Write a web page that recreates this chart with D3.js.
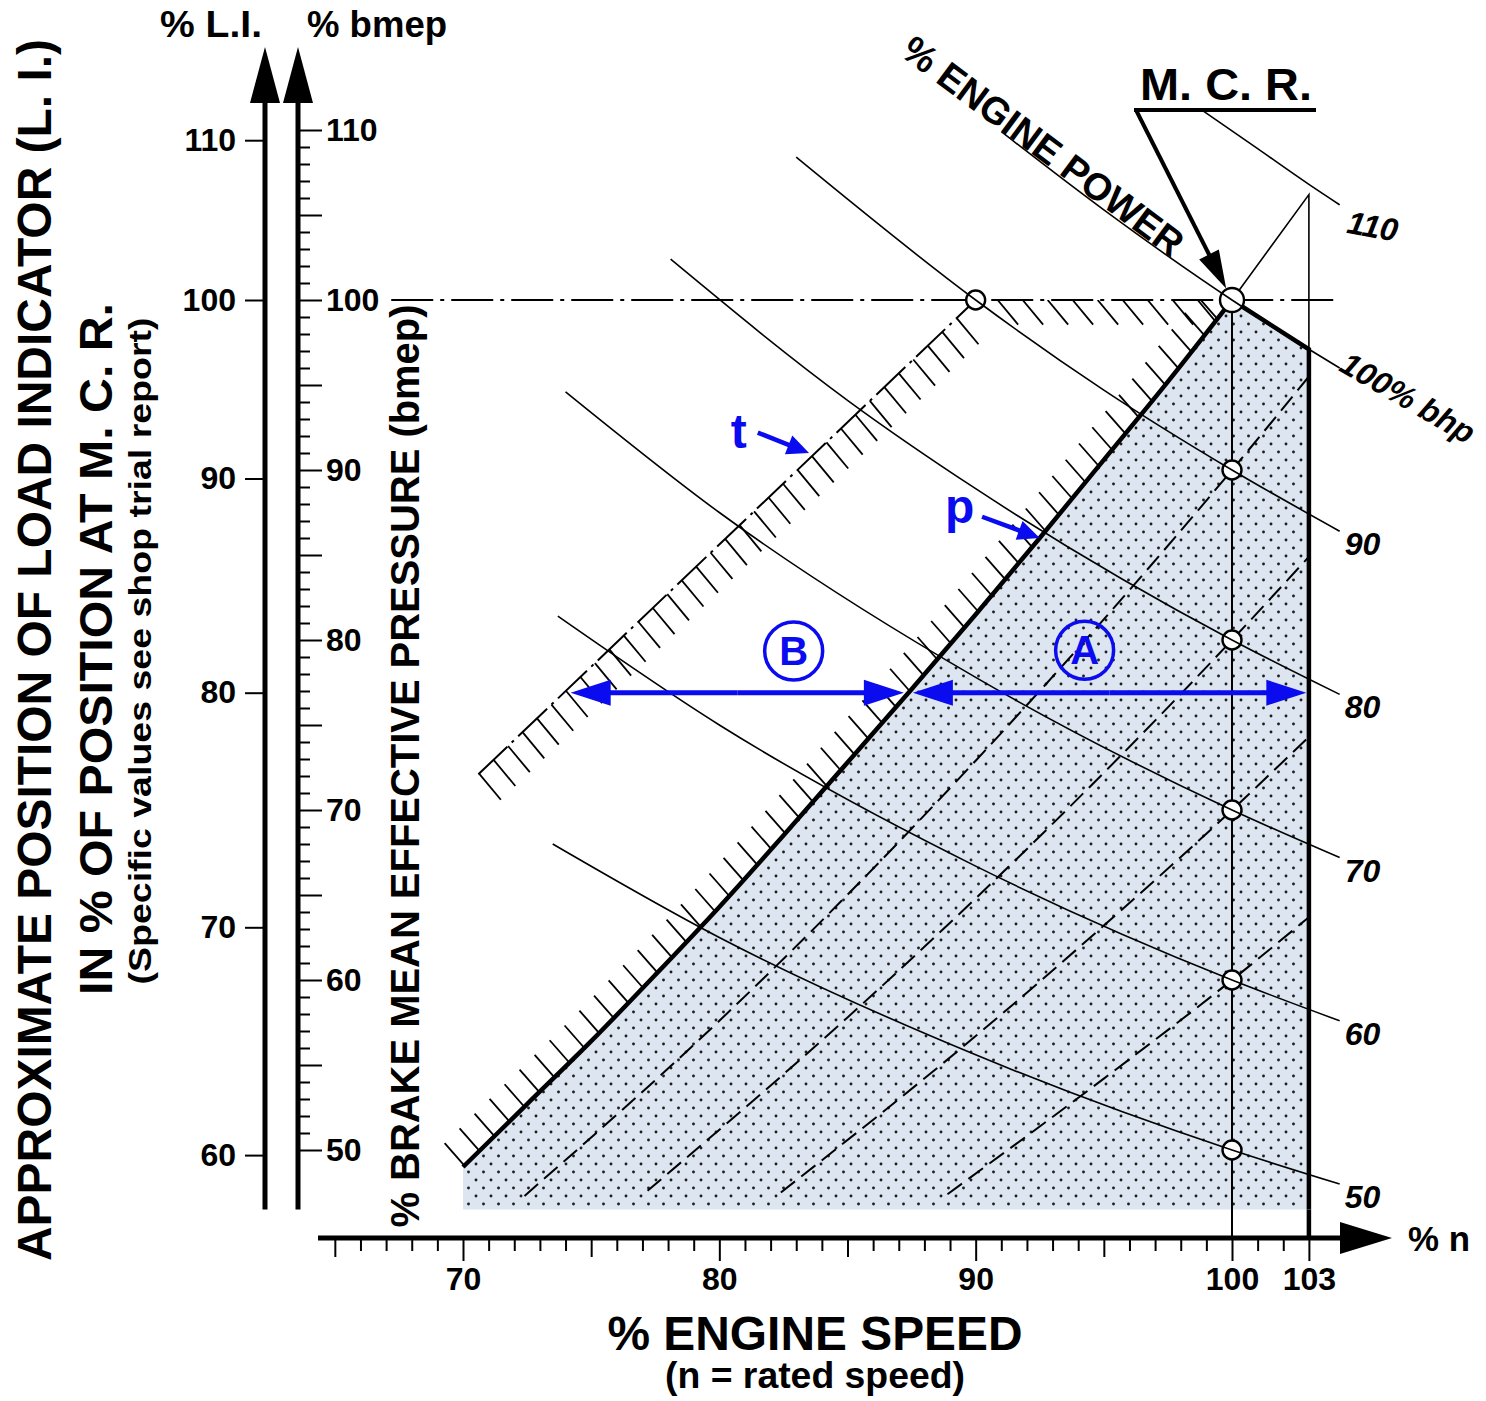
<!DOCTYPE html>
<html>
<head>
<meta charset="utf-8">
<script src="https://cdn.jsdelivr.net/npm/d3@7"></script>
<style>
  body { margin: 0; background: #fff; }
  svg { display: block; font-family: "Liberation Sans", Arial, sans-serif; font-weight: bold; }
</style>
</head>
<body>
<svg id="chart" width="1486" height="1401"></svg>
<script>
// ---------- values ----------
const speedTicks = d3.range(65, 104);          // % n, one tick per %
const speedLabels = [70, 80, 90, 100, 103];
const bmepTicks = d3.range(50, 111);
const bmepLabels = [50, 60, 70, 80, 90, 100, 110];
const liLabels = [60, 70, 80, 90, 100, 110];
const liAsBmep = [49.7, 63.1, 76.9, 89.5, 100, 109.4];   // where each L.I. mark sits on the bmep scale

// propeller curve through M.C.R. (thick line between A and B)
const propCurve = [[70, 49], [72.5, 52.7], [75, 56.4], [77.5, 60.3], [80, 64.3], [82.5, 68.5],
  [85, 72.8], [87.5, 77.1], [90, 81.5], [92.5, 86.0], [95, 90.6], [97.5, 95.2], [100, 100]];

// light running propeller curves (dashed)
const light90 = [[72.4, 47.3], [80, 57.6], [90, 72.9], [100, 90], [103, 95.5]];
const light80 = [[77.2, 47.6], [85, 57.8], [90, 64.8], [100, 80], [103, 84.9]];
const light70 = [[82.4, 47.5], [90, 56.7], [95, 63.2], [100, 70], [103, 74.3]];
const light60 = [[88.9, 47.4], [95, 54.2], [100, 60], [103, 63.7]];

// constant power curves, % engine power
const powerLevels = [50, 60, 70, 80, 90, 100, 110];
const power50 = [[73.5, 68.0], [80, 62.5], [90, 55.6], [100, 50], [104.2, 48.0]];
const power60 = [[73.7, 81.4], [80, 75.0], [90, 66.7], [100, 60], [104.2, 57.6]];
const power70 = [[74.0, 94.6], [80, 87.5], [90, 77.8], [100, 70], [104.2, 67.2]];
const power80 = [[78.1, 102.4], [85, 94.1], [90, 88.9], [100, 80], [104.2, 76.8]];
const power90 = [[83.0, 108.4], [90, 100], [95, 94.7], [100, 90], [104.2, 86.4]];
const power100 = [[91.0, 109.9], [95, 105.3], [100, 100], [103, 97.1], [104.2, 96.0]];
const power110 = [[98.8, 111.2], [101, 108.9], [103, 106.8], [104.2, 105.6]];

// torque limit line t, overload envelope, marked points
const tLine = [[70.6, 72.1], [90, 100]];
const overload = [[100, 100], [103, 106.2], [103, 97.1]];
const marksAt100 = [90, 80, 70, 60, 50];
const floorBmep = 46.5;
const limitN = 103;

// blue annotations
const zoneLI = 80;
const zoneB = [74.2, 87.2];
const zoneA = [87.55, 102.9];
const zoneLetters = [["B", 82.9, 79.35], ["A", 94.25, 79.4]];
const pointers = [
  { text: "t", at: [80.45, 91.3], from: [81.5, 92.2], to: [83.5, 91.0] },
  { text: "p", at: [88.8, 86.9], from: [90.25, 87.25], to: [92.5, 86.0] }
];

// ---------- scales ----------
const svg = d3.select("#chart");
const x = d3.scaleLinear().domain([70, 100]).range([463, 1232]);
const y = d3.scaleLinear().domain([50, 110]).range([1150, 130]);
const li = d3.scaleLinear().domain(liLabels).range(liAsBmep.map(v => y(v)));
const axisY = 1238, liX = 265, bmepX = 298;
const blue = "#0b0bef";

const straight = d3.line().x(d => x(d[0])).y(d => y(d[1]));
const smooth = d3.line().x(d => x(d[0])).y(d => y(d[1])).curve(d3.curveMonotoneX);

// groups in drawing order
const gRegion = svg.append("g");
const gGuide = svg.append("g");
const gHatch = svg.append("g");
const gLines = svg.append("g");
const gThick = svg.append("g");
const gCircles = svg.append("g");
const gPower = svg.append("g");
const gAxes = svg.append("g");
const gText = svg.append("g");

// ---------- shaded operating area (A) ----------
const defs = svg.append("defs");
const pat = defs.append("pattern").attr("id", "dots")
  .attr("width", 15).attr("height", 16).attr("patternUnits", "userSpaceOnUse");
pat.append("rect").attr("width", 15).attr("height", 16).attr("fill", "#dce5f0");
pat.append("circle").attr("cx", 3.5).attr("cy", 4).attr("r", 1.45).attr("fill", "#1e1e1e");
pat.append("circle").attr("cx", 11).attr("cy", 12).attr("r", 1.45).attr("fill", "#1e1e1e");

const tail = power100.filter(d => d[0] > 100 && d[0] <= limitN)
  .concat([[limitN, floorBmep], [70, floorBmep]]);
gRegion.append("path")
  .attr("d", smooth(propCurve) + tail.map(d => `L${x(d[0])},${y(d[1])}`).join("") + "Z")
  .attr("fill", "url(#dots)");

// clip for hatching on the B side (left of propeller curve, below 100 %)
defs.append("clipPath").attr("id", "bside").append("path")
  .attr("d", smooth(propCurve) + `L0,${y(100)}L0,1400L${x(70)},1400Z`);

// ---------- guide lines ----------
gGuide.append("path")
  .attr("d", straight([[67.2, 100], [104.2, 100]]))
  .attr("stroke", "#000").attr("stroke-width", 2).attr("fill", "none")
  .attr("stroke-dasharray", "42,7,4,7");

// ---------- hatching ----------
function hatchAlong(pathD, step, start, end, len, dir) {
  const tmp = svg.append("path").attr("d", pathD);
  const node = tmp.node();
  const total = node.getTotalLength();
  const out = [];
  for (let s = start; s <= total - end; s += step) {
    const p = node.getPointAtLength(s);
    out.push([p.x, p.y, p.x + dir[0] * len, p.y + dir[1] * len]);
  }
  tmp.remove();
  return out;
}
const propHatch = hatchAlong(smooth(propCurve), 21, 2, 12, 30, [-0.66, -0.75]);
const topHatch = hatchAlong(straight([[90, 100], [100, 100]]), 25, 22, 14, 32, [0.64, 0.77]);
const tHatch = hatchAlong(straight(tLine), 20, 1, 14, 34, [0.64, 0.77]);

function drawHatch(list, clip) {
  const g = gHatch.append("g");
  if (clip) g.attr("clip-path", "url(#bside)");
  g.selectAll("line").data(list).join("line")
    .attr("x1", d => d[0]).attr("y1", d => d[1])
    .attr("x2", d => d[2]).attr("y2", d => d[3])
    .attr("stroke", "#000").attr("stroke-width", 1.8);
}
drawHatch(propHatch, true);
drawHatch(topHatch, true);
drawHatch(tHatch, false);

// ---------- thin and dashed lines ----------
gLines.append("path").attr("d", straight(tLine))
  .attr("stroke", "#000").attr("stroke-width", 2).attr("fill", "none")
  .attr("stroke-dasharray", "40,6,3,6");

gLines.selectAll(".light").data([light90, light80, light70, light60]).join("path")
  .attr("class", "light")
  .attr("d", d => smooth(d))
  .attr("stroke", "#000").attr("stroke-width", 2).attr("fill", "none")
  .attr("stroke-dasharray", "18,8");

gLines.append("line")
  .attr("x1", x(100)).attr("x2", x(100))
  .attr("y1", y(100)).attr("y2", axisY)
  .attr("stroke", "#000").attr("stroke-width", 2);

gLines.append("path").attr("d", straight(overload))
  .attr("stroke", "#000").attr("stroke-width", 1.6).attr("fill", "none");

// ---------- thick limits ----------
gThick.append("path").attr("d", smooth(propCurve))
  .attr("stroke", "#000").attr("stroke-width", 4.5).attr("fill", "none");
gThick.append("path")
  .attr("d", straight(power100.filter(d => d[0] >= 100 && d[0] <= limitN).concat([[limitN, floorBmep]])))
  .attr("stroke", "#000").attr("stroke-width", 4.5).attr("fill", "none")
  .attr("stroke-linejoin", "miter");
gThick.append("line")
  .attr("x1", x(limitN)).attr("x2", x(limitN))
  .attr("y1", y(floorBmep)).attr("y2", axisY)
  .attr("stroke", "#000").attr("stroke-width", 4.5);

// ---------- circles ----------
const circles = marksAt100.map(v => [100, v, 9.5])
  .concat([[tLine[1][0], tLine[1][1], 9.5], [100, 100, 12]]);
gCircles.selectAll("circle").data(circles).join("circle")
  .attr("cx", d => x(d[0])).attr("cy", d => y(d[1])).attr("r", d => d[2])
  .attr("fill", "#fff").attr("stroke", "#000").attr("stroke-width", 2.4);

// ---------- power curves ----------
const powerCurves = [power50, power60, power70, power80, power90, power100, power110];
gPower.selectAll("path").data(powerCurves).join("path")
  .attr("d", d => smooth(d))
  .attr("stroke", "#000").attr("stroke-width", 1.6).attr("fill", "none");

const powerLabel = {
  50: { dx: 5, dy: 24, rot: 0, txt: "50" },
  60: { dx: 5, dy: 24, rot: 0, txt: "60" },
  70: { dx: 5, dy: 24, rot: 0, txt: "70" },
  80: { dx: 5, dy: 24, rot: 0, txt: "80" },
  90: { dx: 5, dy: 24, rot: 0, txt: "90" },
  100: { dx: -2, dy: 2, rot: 30, txt: "100% bhp" },
  110: { dx: 6, dy: 28, rot: 10, txt: "110" }
};
powerLevels.forEach((p, i) => {
  const end = powerCurves[i][powerCurves[i].length - 1];
  const o = powerLabel[p];
  gText.append("text")
    .attr("transform", `translate(${x(end[0]) + o.dx},${y(end[1]) + o.dy}) rotate(${o.rot})`)
    .attr("font-size", 32).attr("font-style", "italic")
    .text(o.txt);
});

// ---------- axes ----------
function tidy(g, size) {
  g.attr("font-family", null).attr("font-size", null);
  g.select(".domain").remove();
  g.selectAll("text").attr("font-size", size).attr("fill", "#000");
}
// x axis
const xAxis = gAxes.append("g").attr("transform", `translate(0,${axisY})`)
  .call(d3.axisBottom(x).tickValues(speedTicks).tickSize(13).tickFormat(""));
tidy(xAxis, 0);
xAxis.selectAll(".tick line")
  .attr("stroke-width", 2)
  .attr("y2", d => d % 10 === 0 || d === limitN ? 23 : d % 5 === 0 ? 19 : 13);
const xLab = gAxes.append("g").attr("transform", `translate(0,${axisY})`)
  .call(d3.axisBottom(x).tickValues(speedLabels).tickSize(0).tickPadding(52));
tidy(xLab, 32);
xLab.selectAll("text").attr("dy", 0);
gAxes.append("line").attr("x1", 318).attr("x2", 1350).attr("y1", axisY).attr("y2", axisY)
  .attr("stroke", "#000").attr("stroke-width", 5);
gAxes.append("path").attr("d", `M1392,${axisY}L1340,${axisY - 16}L1340,${axisY + 16}Z`);

// bmep axis
const bAxis = gAxes.append("g").attr("transform", `translate(${bmepX},0)`)
  .call(d3.axisRight(y).tickValues(bmepTicks).tickSize(12).tickFormat(""));
tidy(bAxis, 0);
bAxis.selectAll(".tick line").attr("stroke-width", 2)
  .attr("x2", d => d % 5 === 0 ? 24 : 12);
const bLab = gAxes.append("g").attr("transform", `translate(${bmepX},0)`)
  .call(d3.axisRight(y).tickValues(bmepLabels).tickSize(0).tickPadding(28));
tidy(bLab, 32);

// L.I. axis
const lAxis = gAxes.append("g").attr("transform", `translate(${liX},0)`)
  .call(d3.axisLeft(li).tickValues(liLabels).tickSize(20).tickPadding(9));
tidy(lAxis, 32);
lAxis.selectAll(".tick line").attr("stroke-width", 2);

[liX, bmepX].forEach(ax => {
  gAxes.append("line").attr("x1", ax).attr("x2", ax).attr("y1", y(floorBmep)).attr("y2", 100)
    .attr("stroke", "#000").attr("stroke-width", 5);
  gAxes.append("path").attr("d", `M${ax},47L${ax - 15},103L${ax + 15},103Z`);
});

// ---------- titles ----------
function label(txt, tx, ty, rot, size, len, anchor) {
  const t = gText.append("text")
    .attr("transform", `translate(${tx},${ty}) rotate(${rot})`)
    .attr("font-size", size)
    .attr("text-anchor", anchor || "start")
    .text(txt);
  if (len) t.attr("textLength", len).attr("lengthAdjust", "spacingAndGlyphs");
  return t;
}
label("% L.I.", 160, 37, 0, 36, 102);
label("% bmep", 307, 37, 0, 36, 140);
label("APPROXIMATE POSITION OF LOAD INDICATOR (L. I.)", 51, 650, -90, 48, 1222, "middle");
label("IN % OF POSITION AT M. C. R.", 112, 649, -90, 47, 692, "middle");
label("(Specific values see shop trial report)", 151, 651, -90, 31, 667, "middle");
label("% BRAKE MEAN EFFECTIVE PRESSURE (bmep)", 419, 766, -90, 40, 923, "middle");
label("% ENGINE SPEED", 815, 1350, 0, 48, 415, "middle");
label("(n = rated speed)", 815, 1388, 0, 37, 300, "middle");
label("% n", 1408, 1251, 0, 35, 62);
label("% ENGINE POWER", 899, 55, 36.7, 38, 340);
label("M. C. R.", 1140, 100, 0, 45, 172);

// M.C.R. pointer
const mcr = [x(100), y(100)];
const start = [1136, 110];
gText.append("line").attr("x1", 1134).attr("x2", 1316).attr("y1", 110).attr("y2", 110)
  .attr("stroke", "#000").attr("stroke-width", 4);
function arrow(g, a, b, width, headLen, headHalf, color) {
  const dx = b[0] - a[0], dy = b[1] - a[1];
  const L = Math.hypot(dx, dy), ux = dx / L, uy = dy / L;
  const base = [b[0] - ux * headLen, b[1] - uy * headLen];
  g.append("line").attr("x1", a[0]).attr("y1", a[1]).attr("x2", base[0] + ux * 2).attr("y2", base[1] + uy * 2)
    .attr("stroke", color).attr("stroke-width", width);
  g.append("path").attr("fill", color)
    .attr("d", `M${b[0]},${b[1]}L${base[0] - uy * headHalf},${base[1] + ux * headHalf}L${base[0] + uy * headHalf},${base[1] - ux * headHalf}Z`);
}
{
  const dx = mcr[0] - start[0], dy = mcr[1] - start[1], L = Math.hypot(dx, dy);
  const tip = [mcr[0] - dx / L * 13, mcr[1] - dy / L * 13];
  arrow(gText, start, tip, 4, 38, 11, "#000");
}

// ---------- blue annotations ----------
const zy = li(zoneLI);
[zoneB, zoneA].forEach(z => {
  const a = [x(z[0]), zy], b = [x(z[1]), zy];
  const mid = [(a[0] + b[0]) / 2, zy];
  arrow(gText, mid, a, 5, 40, 13, blue);
  arrow(gText, mid, b, 5, 40, 13, blue);
});
zoneLetters.forEach(d => {
  gText.append("circle").attr("cx", x(d[1])).attr("cy", y(d[2])).attr("r", 29)
    .attr("fill", "none").attr("stroke", blue).attr("stroke-width", 3.5);
  gText.append("text").attr("x", x(d[1])).attr("y", y(d[2]) + 14)
    .attr("text-anchor", "middle").attr("font-size", 40).attr("fill", blue).text(d[0]);
});
pointers.forEach(p => {
  gText.append("text").attr("x", x(p.at[0])).attr("y", y(p.at[1]))
    .attr("font-size", 48).attr("fill", blue).text(p.text);
  arrow(gText, [x(p.from[0]), y(p.from[1])], [x(p.to[0]), y(p.to[1])], 4.5, 22, 10, blue);
});
</script>
</body>
</html>
